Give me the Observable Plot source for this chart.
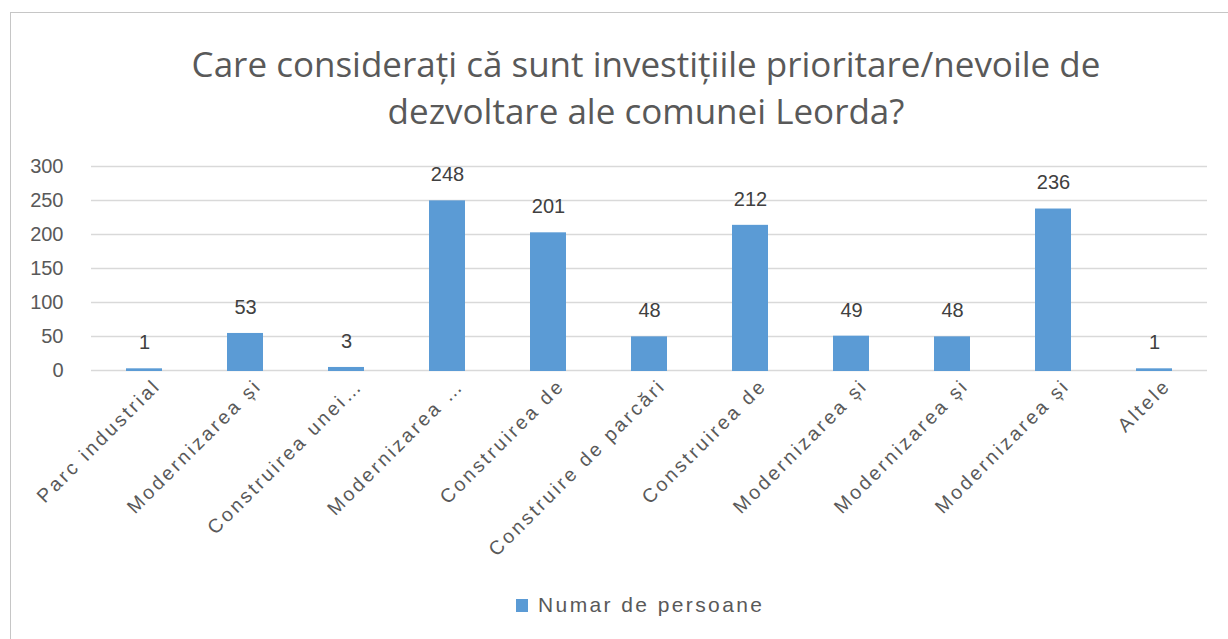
<!DOCTYPE html>
<html>
<head>
<meta charset="utf-8">
<script src="https://cdn.jsdelivr.net/npm/d3@7"></script>
<script src="https://cdn.jsdelivr.net/npm/@observablehq/plot@0.6"></script>
<style>
  html, body { margin: 0; padding: 0; background: #fff; overflow: hidden; }
  body { width: 1228px; height: 639px; position: relative; font-family: "Liberation Sans", Arial, sans-serif; }
  #frame { position: absolute; left: 10px; top: 12px; width: 1240px; height: 700px; border: 1.5px solid #c6c6c6; box-sizing: border-box; }
  #title { position: absolute; left: 0; top: 40px; width: 1292px; text-align: center; font-family: "Open Sans", sans-serif; font-size: 35px; line-height: 47px; color: #595959; }
  #chart { position: absolute; left: 0; top: 140px; }
  #chart g[aria-label="x-axis tick label"] text { letter-spacing: 2.8px; }
  #legend { position: absolute; left: 516px; top: 593px; display: flex; align-items: center; font-size: 21px; color: #595959; letter-spacing: 2.4px; }
  #legend .sw { width: 12px; height: 13px; background: #5B9BD5; margin-right: 10px; }
</style>
</head>
<body>
<div id="frame"></div>
<div id="title">Care considerați că sunt investițiile prioritare/nevoile de<br>dezvoltare ale comunei Leorda?</div>
<div id="chart"></div>
<div id="legend"><div class="sw"></div><span>Numar de persoane</span></div>
<script>
const categories = [
  "Parc industrial",
  "Modernizarea și",
  "Construirea unei…",
  "Modernizarea …",
  "Construirea de",
  "Construire de parcări",
  "Construirea de",
  "Modernizarea și",
  "Modernizarea și",
  "Modernizarea și",
  "Altele"
];
const values = [1, 53, 3, 248, 201, 48, 212, 49, 48, 236, 1];
const yTicks = [0, 50, 100, 150, 200, 250, 300];
const seriesName = "Numar de persoane";

const data = categories.map((c, i) => ({i, label: c, value: values[i]}));

const chart = Plot.plot({
  width: 1228,
  height: 430,
  marginTop: 26,
  marginBottom: 200,
  marginLeft: 91,
  marginRight: 21,
  style: {fontFamily: "Liberation Sans, Arial, sans-serif", background: "transparent"},
  x: {domain: d3.range(categories.length), paddingInner: 0.665, paddingOuter: 0.3325},
  y: {domain: [0, 300]},
  marks: [
    Plot.ruleY(yTicks, {y: d => d, stroke: "#d9d9d9", strokeWidth: 1.5}),
    Plot.barY(data, {x: "i", y: "value", fill: "#5B9BD5", stroke: "#5B9BD5", strokeWidth: 2}),
    Plot.text(data, {x: "i", y: "value", text: d => String(d.value), dy: -27, fontSize: 20, fill: "#404040"}),
    Plot.axisY({ticks: yTicks, tickSize: 0, tickPadding: 28, fontSize: 20, color: "#595959", label: null}),
    Plot.axisX({tickFormat: i => categories[i], tickRotate: -45, tickSize: 0, tickPadding: 12, dx: 13, fontSize: 19.5, color: "#595959", label: null})
  ]
});
document.getElementById("chart").appendChild(chart);
</script>
</body>
</html>
